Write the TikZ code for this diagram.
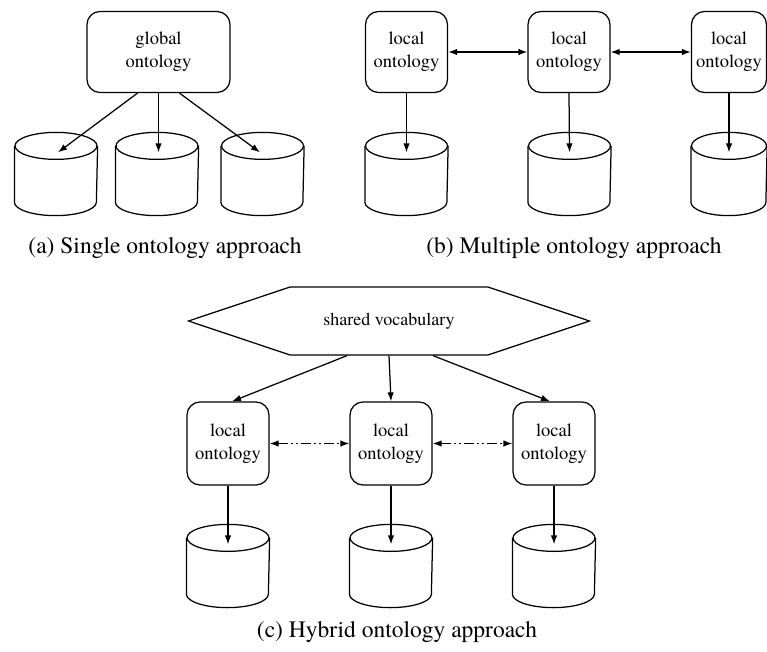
\documentclass[tikz,border=0pt]{standalone}
\usepackage{fontspec}
\setmainfont{texgyretermes}[Extension=.otf,UprightFont=*-regular,BoldFont=*-bold,ItalicFont=*-italic,BoldItalicFont=*-bolditalic]
\usetikzlibrary{calc,positioning,arrows.meta,shapes.symbols}

\tikzset{
  onto/.style={draw,rounded corners=13pt,minimum width=82pt,minimum height=81pt,inner sep=0pt,align=center,font=\fontsize{18.5}{23}\selectfont},
  db/.style={minimum width=82pt,minimum height=82pt,inner sep=0pt},
  legend/.style={font=\fontsize{23.5}{28}\selectfont},
  dashdot/.style={dash pattern=on 10pt off 3pt on 2pt off 3pt on 2pt off 3pt},
}
% cylinder drawn round a named node: #1 node, #2 half width
\newcommand{\dbdraw}[2]{%
  \draw ($(#1.north)+(0,13.5)$) ellipse[x radius=#2pt,y radius=13.5pt];
  \draw ($(#1.north west)+(0,13.5)$) -- ($(#1.south west)+(0,-13.5)$)
     arc[start angle=180,end angle=360,x radius=#2pt,y radius=13.5pt]
     -- ($(#1.north east)+(0,13.5)$);
}

\begin{document}
\begin{tikzpicture}[x=1pt,y=-1pt,>={Latex[length=9pt,width=6.5pt]},line width=1.25pt]
    \useasboundingbox (0,0) rectangle (767,652);
    % (a) single ontology
    \node[onto,minimum width=143pt] (glob) at (158.5,52) {global\\ontology};
    \node[db] (adb1) at (56,174) {};
    \node[db] (adb2) at (157,174) {};
    \node[db] (adb3) at (262.5,174) {};
    \foreach \d in {adb1,adb2,adb3} \dbdraw{\d}{41};
    \draw[->] ($(glob.south)+(-21,0)$) -- ($(adb1.north)+(2,20)$);
    \draw[->] (glob.south) -- ($(adb2.north)+(1.5,20)$);
    \draw[->] ($(glob.south)+(21,0)$) -- ($(adb3.north)+(-2.5,20)$);
    \node[legend] (capa) at (165,248) {(a) Single ontology approach};
    %
    % (b) multiple ontologies
    \node[onto] (bloc1) at (406.5,52) {local\\ontology};
    \node[onto] (bloc2) at (569,52) {local\\ontology};
    \node[onto,minimum width=75pt] (bloc3) at (729,52) {local\\ontology};
    \node[db] (bdb1) at (406.5,174) {};
    \node[db] (bdb2) at (569.5,174) {};
    \node[db,minimum width=75pt] (bdb3) at (729,174) {};
    \dbdraw{bdb1}{41} \dbdraw{bdb2}{41} \dbdraw{bdb3}{37.5}
    \draw[<->] (bloc1) -- (bloc2);
    \draw[<->] (bloc2) -- (bloc3);
    \foreach \i in {1,2,3}
        \draw[->] (bloc\i.south) -- ($(bdb\i.north)+(0,20)$);
    \node[legend] (capb) at (574,248) {(b) Multiple ontology approach};
    %
    % (c) hybrid
    \node[draw,signal,signal to=west and east,signal pointer angle=37,minimum width=401pt,minimum height=68pt,inner sep=0pt,font=\fontsize{18}{23}\selectfont] (vocab) at (389,321) {shared vocabulary};
    \node[onto,minimum height=83pt] (cloc1) at (228,443.5) {local\\ontology};
    \node[onto,minimum height=83pt] (cloc2) at (391,443.5) {local\\ontology};
    \node[onto,minimum height=83pt] (cloc3) at (554,443.5) {local\\ontology};
    \node[db] (cdb1) at (228,566) {};
    \node[db] (cdb2) at (391,566) {};
    \node[db] (cdb3) at (554,566) {};
    \foreach \d in {cdb1,cdb2,cdb3} \dbdraw{\d}{41};
    \draw[->] ($(vocab.south)+(-42,0)$) -- ($(cloc1.north)+(4,0)$);
    \draw[->] (vocab.south) -- (cloc2.north);
    \draw[->] ($(vocab.south)+(44,0)$) -- ($(cloc3.north)+(-4,0)$);
    \draw[<->,dashdot] (cloc1) -- (cloc2);
    \draw[<->,dashdot] (cloc2) -- (cloc3);
    \foreach \i in {1,2,3}
        \draw[->] (cloc\i.south) -- ($(cdb\i.north)+(0,20)$);
    \node[legend] (capc) at (397,632) {(c) Hybrid ontology approach};
\end{tikzpicture}
\end{document}
